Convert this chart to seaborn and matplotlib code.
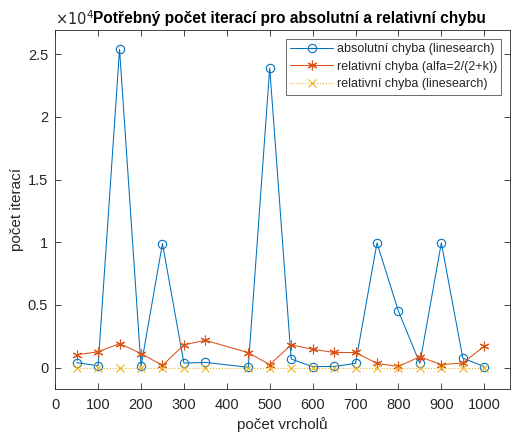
import matplotlib
matplotlib.use("Agg")
import matplotlib.pyplot as plt
import seaborn as sns
import numpy as np
import pandas as pd

# ---- data ----
vertices = [50, 100, 150, 200, 250, 300, 350, 450, 500, 550, 600, 650, 700,
            750, 800, 850, 900, 950, 1000]
abs_linesearch = [400, 150, 25400, 100, 9900, 370, 420, 30, 23900, 690, 80, 100,
                  340, 9950, 4500, 350, 9950, 770, 80]
rel_alfa = [1030, 1260, 1920, 1130, 180, 1820, 2180, 1200, 240, 1820, 1470, 1210,
            1210, 340, 100, 870, 240, 370, 1710]
rel_linesearch = [10, 10, 10, 10, 10, 10, 10, 10, 10, 10, 10, 10, 10, 10, 10, 10,
                  10, 10, 10]
labels = ["absolutní chyba (linesearch)", "relativní chyba (alfa=2/(2+k))",
          "relativní chyba (linesearch)"]
xticks = [0, 100, 200, 300, 400, 500, 600, 700, 800, 900, 1000]
yticks = [0, 5000, 10000, 15000, 20000, 25000]
ytick_labels = ["0", "0.5", "1", "1.5", "2", "2.5"]

sns.set_style("white")
plt.rcParams['font.family'] = ['Liberation Sans', 'DejaVu Sans']

c_blue = "#0072BD"
c_red = "#D95319"
c_yel = "#EDB120"
txt = "#262626"
asterisk = (6, 2, 0)

fig = plt.figure(figsize=(5.11, 4.32), dpi=100)
ax = fig.add_axes([0.108, 0.099, 0.89, 0.832])

df = pd.DataFrame({"x": vertices, "a": abs_linesearch, "r": rel_alfa, "l": rel_linesearch})

sns.lineplot(data=df, x="x", y="a", ax=ax, color=c_blue, marker="o", markersize=6,
             markerfacecolor="none", markeredgecolor=c_blue, markeredgewidth=0.8,
             linewidth=0.75, label=labels[0], sort=False)
sns.lineplot(data=df, x="x", y="r", ax=ax, color=c_red, marker=asterisk, markersize=7,
             markerfacecolor=c_red, markeredgecolor=c_red, markeredgewidth=0.8,
             linewidth=0.75, label=labels[1], sort=False)
sns.lineplot(data=df, x="x", y="l", ax=ax, color=c_yel, marker="x", markersize=5.5,
             markeredgecolor=c_yel, markeredgewidth=0.8,
             linewidth=0.8, linestyle=":", label=labels[2], sort=False)

ax.set_xlim(0, 1060)
ax.set_ylim(-1720, 26950)
ax.set_xticks(xticks)
ax.set_xticklabels([str(t) for t in xticks])
ax.set_yticks(yticks)
ax.set_yticklabels(ytick_labels)

ax.tick_params(direction="in", length=4, width=0.6, colors=txt, labelsize=10.5,
               top=True, right=True, bottom=True, left=True)
ax.tick_params(axis="x", pad=6)
ax.tick_params(axis="y", pad=5)
for s in ax.spines.values():
    s.set_visible(True)
    s.set_color(txt)
    s.set_linewidth(0.6)

ax.set_xlabel("počet vrcholů", fontsize=11, color=txt, labelpad=4)
ax.set_ylabel("počet iterací", fontsize=11, color=txt, labelpad=3)
ax.set_title("Potřebný počet iterací pro absolutní a relativní chybu",
             fontsize=11.2, fontweight="bold", color="black", pad=5, x=0.515)
ax.text(0.0, 1.005, r"$\times10^4$", transform=ax.transAxes, fontsize=10.5,
        color=txt, ha="left", va="bottom")

leg = ax.legend(loc="upper right", fontsize=9, frameon=True, fancybox=False,
                edgecolor=txt, borderpad=0.35, labelspacing=0.45, handlelength=3.4,
                handletextpad=0.3, borderaxespad=0.7)
leg.get_frame().set_linewidth(0.6)
for t in leg.get_texts():
    t.set_color(txt)

fig.savefig("out.png", dpi=100)
